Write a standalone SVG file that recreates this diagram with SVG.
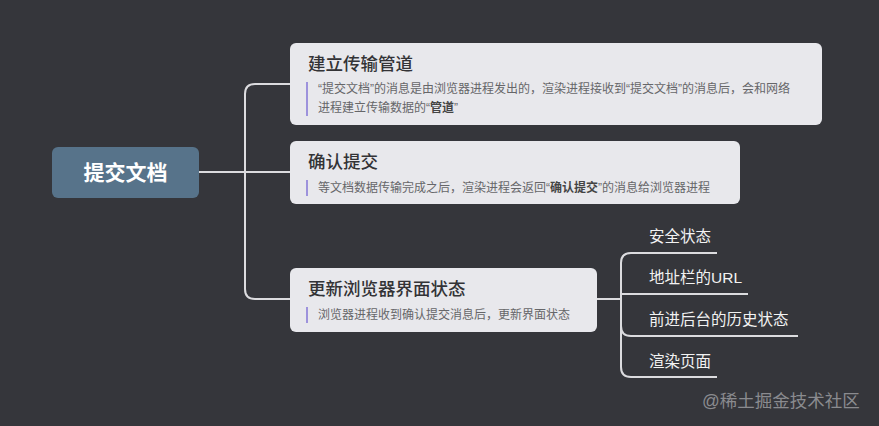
<svg xmlns="http://www.w3.org/2000/svg" width="879" height="426" viewBox="0 0 879 426">
<style>
  text { font-family: "Liberation Sans", "Noto Sans CJK SC", sans-serif; }
  .bg { fill: #35363b; }
  .card { fill: #e8e8ec; }
  .title { font-size: 17.5px; fill: #333336; font-weight: 500; }
  .desc { font-size: 12px; fill: #666669; }
  .desc .b { font-weight: bold; fill: #444; }
  .bar { stroke: #9d92dc; stroke-width: 2; }
  .link { fill: none; stroke: #dcdcdf; stroke-width: 2; }
  .sub { font-size: 15.5px; fill: #f2f2f2; }
  .root { fill: #57738a; }
  .roottext { font-size: 21px; font-weight: bold; fill: #ffffff; }
  .wm { font-size: 17.5px; fill: #8a8b8f; }
</style>
<rect class="bg" x="0" y="0" width="879" height="426"/>

<g id="connectors">
  <path class="link" d="M199 172 H290"/>
  <path class="link" d="M245 172 V94 Q245 84 255 84 H290"/>
  <path class="link" d="M245 172 V289 Q245 299 255 299 H290"/>
  <path class="link" d="M597 299 H621"/>
  <path class="link" d="M621 299 V263 Q621 253 631 253 H717"/>
  <path class="link" d="M621 299 V294 H748"/>
  <path class="link" d="M621 299 V326 Q621 336 631 336 H798"/>
  <path class="link" d="M621 299 V367 Q621 377 631 377 H717"/>
</g>

<g id="root">
  <rect class="root" x="52" y="147" width="147" height="51" rx="6"/>
  <text class="roottext" x="125.5" y="180" text-anchor="middle">提交文档</text>
</g>

<g id="node-pipeline">
  <rect class="card" x="290" y="43" width="532" height="82" rx="6"/>
  <text class="title" x="308" y="70">建立传输管道</text>
  <line class="bar" x1="307" y1="82" x2="307" y2="116"/>
  <text class="desc" x="318" y="93">“提交文档”的消息是由浏览器进程发出的，渲染进程接收到“提交文档”的消息后，会和网络</text>
  <text class="desc" x="318" y="112">进程建立传输数据的“<tspan class="b">管道</tspan>”</text>
</g>

<g id="node-confirm">
  <rect class="card" x="290" y="141" width="450" height="63" rx="6"/>
  <text class="title" x="308" y="168">确认提交</text>
  <line class="bar" x1="307" y1="180" x2="307" y2="196"/>
  <text class="desc" x="318" y="192">等文档数据传输完成之后，渲染进程会返回“<tspan class="b">确认提交</tspan>”的消息给浏览器进程</text>
</g>

<g id="node-update">
  <rect class="card" x="290" y="268" width="307" height="64" rx="6"/>
  <text class="title" x="308" y="295">更新浏览器界面状态</text>
  <line class="bar" x1="307" y1="307" x2="307" y2="323"/>
  <text class="desc" x="318" y="319">浏览器进程收到确认提交消息后，更新界面状态</text>
</g>

<g id="sub-security">
  <text class="sub" x="649" y="242">安全状态</text>
</g>
<g id="sub-url">
  <text class="sub" x="649" y="283">地址栏的URL</text>
</g>
<g id="sub-history">
  <text class="sub" x="649" y="325">前进后台的历史状态</text>
</g>
<g id="sub-render">
  <text class="sub" x="649" y="367">渲染页面</text>
</g>

<text class="wm" x="702" y="407">@稀土掘金技术社区</text>
</svg>
